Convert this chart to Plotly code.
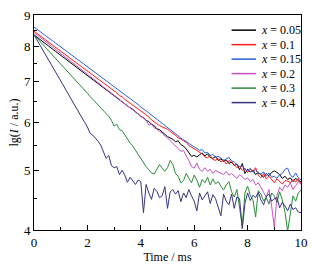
import numpy as np
import plotly.graph_objects as go

time_ms = [round(i * 0.1, 1) for i in range(101)]

series_names = ["0.05", "0.1", "0.15", "0.2", "0.3", "0.4"]
series_colors = ["#000000", "#ff1a1a", "#2a62d6", "#c452c4", "#2a8a3a", "#34347e"]

x005 = [8.35, 8.29, 8.23, 8.16, 8.10, 8.04, 7.98, 7.91, 7.85, 7.79,
        7.73, 7.68, 7.62, 7.56, 7.50, 7.45, 7.39, 7.33, 7.28, 7.22,
        7.16, 7.12, 7.05, 7.01, 6.95, 6.89, 6.85, 6.79, 6.75, 6.68,
        6.63, 6.59, 6.53, 6.50, 6.43, 6.39, 6.34, 6.31, 6.24, 6.20,
        6.14, 6.11, 6.05, 6.02, 5.96, 5.93, 5.86, 5.84, 5.78, 5.74,
        5.69, 5.66, 5.63, 5.58, 5.60, 5.52, 5.49, 5.43, 5.36, 5.28,
        5.30, 5.27, 5.31, 5.35, 5.29, 5.33, 5.26, 5.24, 5.28, 5.20,
        5.23, 5.18, 5.21, 5.14, 5.17, 5.10, 5.13, 5.02, 5.14, 4.95,
        5.03, 4.98, 5.01, 4.93, 4.97, 4.92, 4.88, 4.95, 4.91, 4.97,
        5.00, 4.97, 4.93, 4.86, 4.90, 4.84, 4.87, 4.80, 4.86, 4.82,
        4.80]

x01 = [8.47, 8.41, 8.34, 8.28, 8.22, 8.16, 8.09, 8.03, 7.97, 7.91,
       7.85, 7.79, 7.74, 7.68, 7.62, 7.57, 7.51, 7.45, 7.40, 7.34,
       7.28, 7.23, 7.17, 7.13, 7.06, 7.02, 6.96, 6.91, 6.86, 6.80,
       6.75, 6.71, 6.64, 6.61, 6.55, 6.50, 6.46, 6.40, 6.37, 6.30,
       6.26, 6.22, 6.17, 6.13, 6.06, 6.01, 5.97, 5.93, 5.90, 5.87,
       5.85, 5.80, 5.76, 5.72, 5.66, 5.64, 5.60, 5.57, 5.50, 5.47,
       5.43, 5.40, 5.36, 5.33, 5.27, 5.25, 5.30, 5.22, 5.20, 5.24,
       5.17, 5.21, 5.13, 5.20, 5.16, 5.12, 5.06, 5.09, 5.01, 5.05,
       4.97, 5.03, 4.99, 5.06, 4.92, 4.87, 4.95, 4.85, 4.90, 4.83,
       4.78, 4.85, 4.80, 4.76, 4.82, 4.81, 4.78, 4.84, 4.79, 4.86,
       4.75]

x015 = [8.60, 8.54, 8.47, 8.41, 8.35, 8.28, 8.22, 8.16, 8.10, 8.04,
        7.98, 7.92, 7.86, 7.81, 7.75, 7.69, 7.63, 7.57, 7.52, 7.46,
        7.40, 7.35, 7.29, 7.24, 7.19, 7.13, 7.08, 7.02, 6.97, 6.92,
        6.86, 6.82, 6.76, 6.72, 6.66, 6.61, 6.57, 6.51, 6.46, 6.42,
        6.36, 6.32, 6.27, 6.22, 6.17, 6.13, 6.07, 6.04, 5.98, 5.94,
        5.88, 5.84, 5.80, 5.74, 5.70, 5.66, 5.62, 5.58, 5.53, 5.50,
        5.47, 5.44, 5.40, 5.42, 5.35, 5.36, 5.30, 5.32, 5.26, 5.28,
        5.25, 5.20, 5.23, 5.26, 5.19, 5.17, 5.12, 5.08, 5.10, 5.02,
        5.00, 5.05, 4.97, 5.02, 4.95, 4.94, 4.98, 4.90, 4.96, 4.88,
        4.90, 4.86, 4.93, 4.95, 5.03, 5.05, 4.92, 4.88, 4.96, 4.87,
        4.83]

x02 = [8.42, 8.36, 8.29, 8.23, 8.16, 8.10, 8.04, 7.97, 7.91, 7.85,
       7.79, 7.73, 7.67, 7.61, 7.55, 7.49, 7.43, 7.37, 7.31, 7.26,
       7.20, 7.14, 7.09, 7.03, 6.98, 6.92, 6.86, 6.81, 6.75, 6.70,
       6.64, 6.60, 6.54, 6.49, 6.45, 6.39, 6.35, 6.29, 6.25, 6.19,
       6.14, 6.10, 6.05, 5.94, 5.97, 5.88, 5.85, 5.80, 5.77, 5.70,
       5.66, 5.60, 5.55, 5.49, 5.44, 5.38, 5.40, 5.29, 5.20, 5.08,
       5.05, 5.15, 5.03, 4.99, 5.06, 4.99, 5.03, 4.95, 5.01, 4.98,
       4.96, 4.93, 4.99, 4.92, 4.95, 4.91, 4.86, 4.93, 4.88, 4.84,
       4.87, 4.80, 4.84, 4.74, 4.78, 4.70, 4.62, 4.53, 4.66, 4.38,
       4.04, 4.55, 4.70, 4.64, 4.74, 4.70, 4.78, 4.66, 4.73, 4.80,
       4.75]

x03 = [8.35, 8.26, 8.16, 8.07, 7.99, 7.91, 7.82, 7.74, 7.65, 7.57,
       7.49, 7.41, 7.33, 7.24, 7.16, 7.08, 7.00, 6.93, 6.85, 6.77,
       6.70, 6.62, 6.55, 6.49, 6.41, 6.34, 6.27, 6.21, 6.14, 6.05,
       5.92, 5.96, 5.84, 5.82, 5.72, 5.64, 5.55, 5.49, 5.40, 5.34,
       5.24, 5.15, 5.08, 5.02, 4.96, 4.94, 5.03, 5.12, 5.05, 4.99,
       5.06, 5.20, 5.12, 4.95, 4.90, 4.78, 4.82, 4.95, 4.86, 4.78,
       4.92, 4.83, 4.70, 4.84, 4.78, 4.88, 4.74, 4.85, 4.76, 4.80,
       4.72, 4.65, 4.74, 4.80, 4.62, 4.53, 4.66, 4.38, 4.06, 4.60,
       4.72, 4.56, 4.48, 4.20, 4.64, 4.58, 4.46, 4.52, 4.41, 4.60,
       4.55, 4.44, 4.62, 4.48, 4.28, 3.98, 4.30, 4.55, 4.46, 4.60,
       4.65]

x04 = [8.35, 8.21, 8.07, 7.93, 7.79, 7.66, 7.52, 7.40, 7.27, 7.14,
       7.02, 6.90, 6.78, 6.66, 6.54, 6.43, 6.32, 6.21, 6.11, 6.00,
       5.90, 5.76, 5.72, 5.66, 5.59, 5.51, 5.36, 5.24, 5.30, 5.10,
       5.06, 5.08, 4.93, 5.01, 4.92, 4.79, 4.88, 4.82, 4.75, 4.83,
       4.80, 4.27, 4.75, 4.60, 4.49, 4.68, 4.63, 4.52, 4.55, 4.71,
       4.34, 4.62, 4.66, 4.58, 4.64, 4.45, 4.60, 4.52, 4.66, 4.55,
       4.46, 4.30, 4.60, 4.48, 4.55, 4.62, 4.42, 4.57, 4.50, 4.35,
       4.22, 4.58, 4.46, 4.40, 4.58, 4.34, 4.53, 4.50, 4.02, 4.42,
       4.60, 4.47, 4.56, 4.52, 4.61, 4.48, 4.40, 4.54, 4.58, 4.46,
       4.50, 4.52, 4.35, 4.44, 4.38, 4.30, 4.41, 4.32, 4.35, 4.28,
       4.27]

y_ticks = [4, 5, 6, 7, 8, 9]
y_minor = [4.5, 5.5, 6.5, 7.5, 8.5]
x_ticks = [0, 2, 4, 6, 8, 10]

all_series = [x005, x01, x015, x02, x03, x04]

FONT = "Liberation Serif, Times New Roman, serif"
fig = go.Figure()
for name, color, vals in zip(series_names, series_colors, all_series):
    fig.add_trace(go.Scatter(x=time_ms, y=vals, mode="lines", name=name,
                             line=dict(color=color, width=1), showlegend=False))

# custom legend (paper coordinates)
leg_y0 = 24
leg_dy = 15.3
L, R, T, B = 34, 307, 8, 235
for i, (name, color) in enumerate(zip(series_names, series_colors)):
    py = leg_y0 + i * leg_dy
    yp = (B - py) / (B - T)
    fig.add_shape(type="line", xref="paper", yref="paper",
                  x0=(236 - L) / (R - L), x1=(261 - L) / (R - L), y0=yp, y1=yp,
                  line=dict(color=color, width=1.5))
    fig.add_annotation(xref="paper", yref="paper", x=(264 - L) / (R - L), y=yp,
                       xanchor="left", yanchor="middle", showarrow=False,
                       text="<i>x</i> = " + name,
                       font=dict(family=FONT, size=12, color="black"))

fig.update_layout(
    width=316, height=270,
    margin=dict(l=L, r=316 - R, t=T, b=270 - B, pad=0),
    paper_bgcolor="white", plot_bgcolor="white",
    font=dict(family=FONT, size=13, color="black"),
    xaxis=dict(range=[0, 10], tickvals=x_ticks, ticks="inside", ticklen=5,
               tickcolor="black", showline=True, mirror=True, linecolor="black",
               linewidth=1, showgrid=False, zeroline=False,
               minor=dict(dtick=1, tick0=0, ticks="inside", ticklen=3, tickcolor="black", showgrid=False),
               title=dict(text="Time / ms", font=dict(size=12), standoff=4),
               tickfont=dict(size=13)),
    yaxis=dict(type="log", range=[np.log10(4), np.log10(9)], tickvals=y_ticks,
               ticktext=[str(v) for v in y_ticks],
               ticks="inside", ticklen=5, tickcolor="black", showline=True,
               mirror=True, linecolor="black", linewidth=1, showgrid=False,
               zeroline=False,
               minor=dict(tickvals=y_minor, ticks="inside", ticklen=3, tickcolor="black", showgrid=False),
               title=dict(text="lg(<i>I</i> / a.u.)", font=dict(size=12), standoff=2),
               tickfont=dict(size=13)),
)

fig.write_html("out.html", config={"displayModeBar": False},
               post_script="document.body.style.margin='0';document.body.style.padding='0';document.body.style.overflow='hidden';")
